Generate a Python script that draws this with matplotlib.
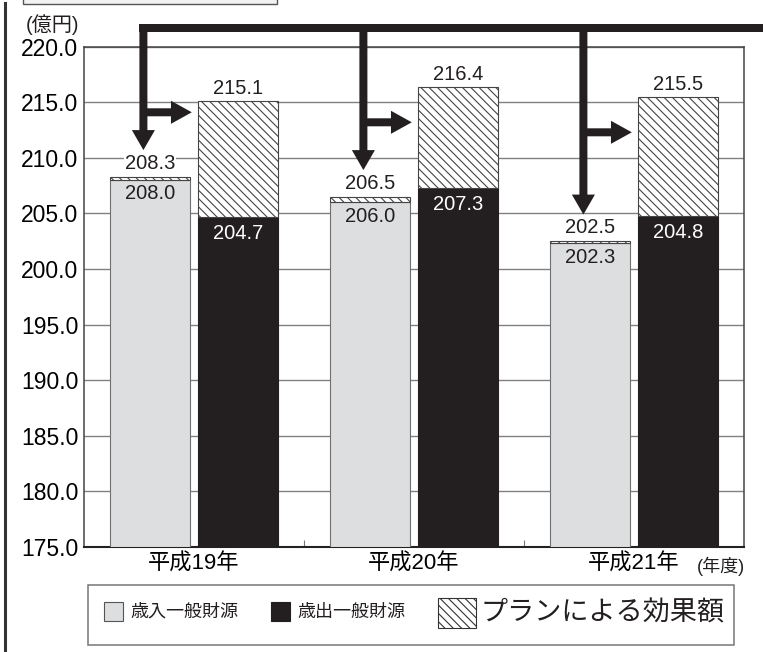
import matplotlib
matplotlib.use("Agg")
import matplotlib.pyplot as plt
from matplotlib.patches import Rectangle, FancyArrowPatch
from matplotlib.lines import Line2D
import numpy as np

plt.rcParams['font.family'] = ['Liberation Sans', 'Noto Sans CJK JP', 'DejaVu Sans']
plt.rcParams['hatch.linewidth'] = 0.8
HATCH = chr(92) * 4

# ---- data ----
years = ['平成19年', '平成20年', '平成21年']
revenue_base = [208.0, 206.0, 202.3]      # 歳入一般財源
revenue_total = [208.3, 206.5, 202.5]     # with plan effect
expend_base = [204.7, 207.3, 204.8]       # 歳出一般財源
expend_total = [215.1, 216.4, 215.5]      # with plan effect
yticks = [175, 180, 185, 190, 195, 200, 205, 210, 215, 220]
legend_labels = ['歳入一般財源', '歳出一般財源', 'プランによる効果額']
unit_label = '(億円)'
xunit_label = '(年度)'

# annotation arrow levels (decoration)
arrow_top_y = 221.7
branch_y = [214.1, 213.2, 212.3]

W, H = 763, 652
fig = plt.figure(figsize=(W / 100, H / 100), dpi=100)
ax = fig.add_axes([84 / W, 1 - 547 / H, (744 - 84) / W, (547 - 46.7) / H])

GRAY = '#dddee0'
BLACK = '#231f20'
x = np.arange(len(years))
bw = 0.36
off = 0.2
ymin = yticks[0]

rb = np.array(revenue_base); rt = np.array(revenue_total)
eb = np.array(expend_base); et = np.array(expend_total)

ax.bar(x - off, rb - ymin, bw, bottom=ymin, color=GRAY, edgecolor='#707070', linewidth=0.8, zorder=3)
ax.bar(x - off, rt - rb, bw, bottom=rb, color='white', edgecolor='#444444', hatch=HATCH, linewidth=0.8, zorder=3)
ax.bar(x + off, eb - ymin, bw, bottom=ymin, color=BLACK, edgecolor=BLACK, linewidth=0.8, zorder=3)
ax.bar(x + off, et - eb, bw, bottom=eb, color='white', edgecolor='#444444', hatch=HATCH, linewidth=0.8, zorder=3)

ax.set_xlim(-0.5, len(years) - 0.5)
ax.set_ylim(yticks[0], yticks[-1])
ax.set_yticks(yticks)
ax.set_yticklabels([f'{v:.1f}' for v in yticks], fontsize=16.5)
ax.set_xticks(x)
ax.set_xticklabels(years, fontsize=16)
ax.set_xticks(x[:-1] + 0.5, minor=True)
ax.tick_params(axis='x', which='major', length=0, pad=5)
ax.tick_params(axis='x', which='minor', direction='in', length=5, color='#777777', width=0.8)
ax.tick_params(axis='y', length=0, pad=4)
ax.yaxis.grid(True, color='#808080', linewidth=1.0, zorder=0)
ax.set_axisbelow(True)
for s in ax.spines.values():
    s.set_color('#444444')
    s.set_linewidth(1.1)
ax.spines['bottom'].set_color('#222222')
ax.spines['bottom'].set_linewidth(1.5)

# value labels
LFS = 14.5
for i in range(len(years)):
    ax.annotate(f'{rt[i]:.1f}', (x[i] - off, rt[i]), xytext=(0, 3), textcoords='offset points',
                ha='center', va='bottom', fontsize=LFS, color='#231f20', zorder=5,
                bbox=dict(fc='white', ec='none', pad=0.3))
    ax.annotate(f'{et[i]:.1f}', (x[i] + off, et[i]), xytext=(0, 2), textcoords='offset points',
                ha='center', va='bottom', fontsize=LFS, color='#231f20', zorder=5)
    ax.annotate(f'{rb[i]:.1f}', (x[i] - off, rb[i]), xytext=(0, -3), textcoords='offset points',
                ha='center', va='top', fontsize=LFS, color='#231f20', zorder=5)
    ax.annotate(f'{eb[i]:.1f}', (x[i] + off, eb[i]), xytext=(0, -5), textcoords='offset points',
                ha='center', va='top', fontsize=LFS, color='white', zorder=5)

# arrows
shaft = 5.76
drop_x = x - 0.23
ax.add_line(Line2D([drop_x[0] - 0.018, 2.7], [arrow_top_y, arrow_top_y], color=BLACK,
                   linewidth=shaft, solid_capstyle='butt', clip_on=False, zorder=6))
for i in range(len(years)):
    a = FancyArrowPatch((drop_x[i], arrow_top_y + 0.3), (drop_x[i], rt[i] + 2.4),
                        arrowstyle='simple,head_length=14.4,head_width=16.6,tail_width=5.76',
                        mutation_scale=1, shrinkA=0, shrinkB=0, color=BLACK, lw=0,
                        clip_on=False, zorder=6)
    ax.add_patch(a)
    b = FancyArrowPatch((drop_x[i], branch_y[i]), (x[i] - 0.01, branch_y[i]),
                        arrowstyle='simple,head_length=15,head_width=16.6,tail_width=5.76',
                        mutation_scale=1, shrinkA=0, shrinkB=0, color=BLACK, lw=0,
                        clip_on=False, zorder=6)
    ax.add_patch(b)

# unit labels
def fx(px): return px / W
def fy(py): return 1 - py / H

fig.text(fx(52), fy(25), unit_label, ha='center', va='center', fontsize=14.5, color='#231f20')
fig.text(fx(721), fy(566), xunit_label, ha='center', va='center', fontsize=13, color='#231f20')

# frame decorations
fig.add_artist(Line2D([fx(5), fx(5)], [fy(3), fy(660)], color='#333333', linewidth=2.2))
fig.add_artist(Rectangle((fx(23), fy(4)), fx(277) - fx(23), fy(-20) - fy(4),
                         transform=fig.transFigure, facecolor='#f2f2f2', edgecolor='#555555', linewidth=1.0))

# legend (manual)
fig.add_artist(Rectangle((fx(88), fy(645)), fx(734) - fx(88), fy(585) - fy(645),
                         transform=fig.transFigure, facecolor='white', edgecolor='#777777', linewidth=1.1))
fig.add_artist(Rectangle((fx(104), fy(621)), fx(19), fy(0) - fy(19), transform=fig.transFigure,
                         facecolor=GRAY, edgecolor='#555555', linewidth=0.8))
fig.text(fx(130), fy(612), legend_labels[0], ha='left', va='center', fontsize=13, color='#231f20')
fig.add_artist(Rectangle((fx(271), fy(621)), fx(19), fy(0) - fy(19), transform=fig.transFigure,
                         facecolor=BLACK, edgecolor=BLACK, linewidth=0.8))
fig.text(fx(297), fy(612), legend_labels[1], ha='left', va='center', fontsize=13, color='#231f20')
fig.add_artist(Rectangle((fx(438), fy(628)), fx(38), fy(0) - fy(30), transform=fig.transFigure,
                         facecolor='white', edgecolor='#333333', hatch=HATCH, linewidth=0.8))
fig.text(fx(481), fy(613), legend_labels[2], ha='left', va='center', fontsize=19.5, color='#231f20')

fig.savefig('out.png', dpi=100)
